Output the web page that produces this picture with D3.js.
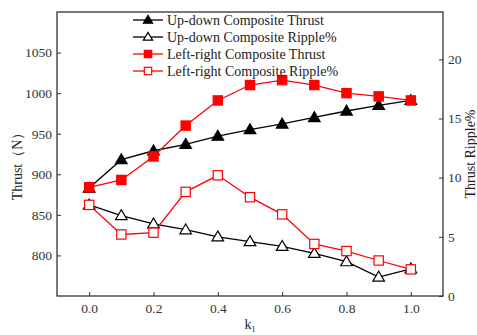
<!DOCTYPE html>
<html>
<head>
<meta charset="utf-8">
<script src="https://cdn.jsdelivr.net/npm/d3@7"></script>
<style>
  html, body { margin: 0; padding: 0; background: #fff; }
</style>
</head>
<body>
<svg id="chart" width="477" height="335"></svg>
<script>
// k1 sweep
const k1 = [0.0, 0.1, 0.2, 0.3, 0.4, 0.5, 0.6, 0.7, 0.8, 0.9, 1.0];

// Composite thrust (N), left axis
const upDownThrust    = [883, 918, 929, 937, 947, 955, 962, 970, 978, 985, 991];
const leftRightThrust = [884, 893, 922, 960, 991, 1010, 1016, 1010, 1000, 996, 991];

// Thrust ripple (%), right axis
const upDownRipple    = [7.7, 6.8, 6.1, 5.6, 5.0, 4.6, 4.2, 3.6, 2.9, 1.6, 2.3];
const leftRightRipple = [7.7, 5.2, 5.35, 8.8, 10.2, 8.35, 6.9, 4.4, 3.8, 3.0, 2.25];

// Tick values
const xTicks = [0.0, 0.2, 0.4, 0.6, 0.8, 1.0];
const yLeftTicks = [800, 850, 900, 950, 1000, 1050];
const yRightTicks = [0, 5, 10, 15, 20];

const series = [
  { name: "Up-down Composite Thrust",    values: upDownThrust,    axis: "left",  color: "#000", shape: "triangle", filled: true },
  { name: "Up-down Composite Ripple%",   values: upDownRipple,    axis: "right", color: "#000", shape: "triangle", filled: false },
  { name: "Left-right Composite Thrust", values: leftRightThrust, axis: "left",  color: "#ff0000", shape: "square", filled: true },
  { name: "Left-right Composite Ripple%",values: leftRightRipple, axis: "right", color: "#ff0000", shape: "square", filled: false }
];

const FONT = '"Liberation Serif", Tinos, "Times New Roman", "DejaVu Serif", serif';

const svg = d3.select("#chart").attr("font-family", FONT);
const m = { left: 57, right: 443, top: 12, bottom: 296 };

const x = d3.scaleLinear().domain([-0.1, 1.1]).range([m.left, m.right]);
const yL = d3.scaleLinear().domain([750, 1100]).range([m.bottom, m.top]);
const yR = d3.scaleLinear().domain([0, 24]).range([m.bottom, m.top]);

const tickColor = "#333";

// Axes with inward ticks
const gx = svg.append("g").attr("transform", `translate(0,${m.bottom})`)
  .call(d3.axisBottom(x).tickValues(xTicks).tickFormat(d3.format(".1f")).tickSizeInner(-4).tickSizeOuter(0).tickPadding(7));
const gl = svg.append("g").attr("transform", `translate(${m.left},0)`)
  .call(d3.axisLeft(yL).tickValues(yLeftTicks).tickFormat(d3.format("d")).tickSizeInner(-4).tickSizeOuter(0).tickPadding(5));
const gr = svg.append("g").attr("transform", `translate(${m.right},0)`)
  .call(d3.axisRight(yR).tickValues(yRightTicks).tickFormat(d3.format("d")).tickSizeInner(-4).tickSizeOuter(0).tickPadding(5));

[gx, gl, gr].forEach(g => {
  g.attr("font-family", FONT).attr("font-size", 13.5);
  g.select(".domain").remove();
  g.selectAll("line").attr("stroke", "#333").attr("stroke-width", 1);
  g.selectAll("text").attr("fill", tickColor);
});

// Frame
svg.append("rect")
  .attr("x", m.left).attr("y", m.top)
  .attr("width", m.right - m.left).attr("height", m.bottom - m.top)
  .attr("fill", "none").attr("stroke", "#333").attr("stroke-width", 1.3);

// Axis titles
svg.append("text")
  .attr("transform", "translate(22,163) rotate(-90)")
  .attr("text-anchor", "middle").attr("fill", "#222").attr("font-size", 14)
  .text("Thrust（N）");
svg.append("text")
  .attr("transform", "translate(475,154) rotate(-90)")
  .attr("text-anchor", "middle").attr("fill", "#222").attr("font-size", 14)
  .text("Thrust Ripple%");
const kt = svg.append("text")
  .attr("x", x(0.5)).attr("y", 329)
  .attr("text-anchor", "middle").attr("fill", "#222").attr("font-size", 14);
kt.append("tspan").text("k");
kt.append("tspan").attr("dy", 3).attr("font-size", 8).text("1");

// Marker shapes
function drawMarker(g, shape, cx, cy, size, color, filled) {
  if (shape === "square") {
    const h = size * 0.8;
    g.append("rect").attr("x", cx - h).attr("y", cy - h).attr("width", 2 * h).attr("height", 2 * h)
      .attr("fill", filled ? color : "#fff").attr("stroke", color).attr("stroke-width", 1.2);
  } else {
    const r = size;
    const pts = [[cx, cy - r], [cx - r, cy + r * 0.7], [cx + r, cy + r * 0.7]];
    g.append("polygon").attr("points", pts.map(p => p.join(",")).join(" "))
      .attr("fill", filled ? color : "#fff").attr("stroke", color).attr("stroke-width", 1.2);
  }
}

const plot = svg.append("g");
series.forEach(s => {
  const ys = s.axis === "left" ? yL : yR;
  const line = d3.line().x((d, i) => x(k1[i])).y(d => ys(d));
  plot.append("path").datum(s.values).attr("d", line)
    .attr("fill", "none").attr("stroke", s.color).attr("stroke-width", 1.3);
});
series.forEach(s => {
  const ys = s.axis === "left" ? yL : yR;
  const g = plot.append("g");
  s.values.forEach((v, i) => drawMarker(g, s.shape, x(k1[i]), ys(v), 5.8, s.color, s.filled));
});

// Legend
const lg = svg.append("g");
series.forEach((s, i) => {
  const yy = 20 + i * 17;
  lg.append("line").attr("x1", 133).attr("x2", 163).attr("y1", yy).attr("y2", yy)
    .attr("stroke", s.color).attr("stroke-width", 1.3);
  drawMarker(lg, s.shape, 148, yy, 4.6, s.color, s.filled);
  lg.append("text").attr("x", 167).attr("y", yy + 4.8).attr("fill", "#222")
    .attr("font-size", 14).text(s.name);
});
</script>
</body>
</html>
